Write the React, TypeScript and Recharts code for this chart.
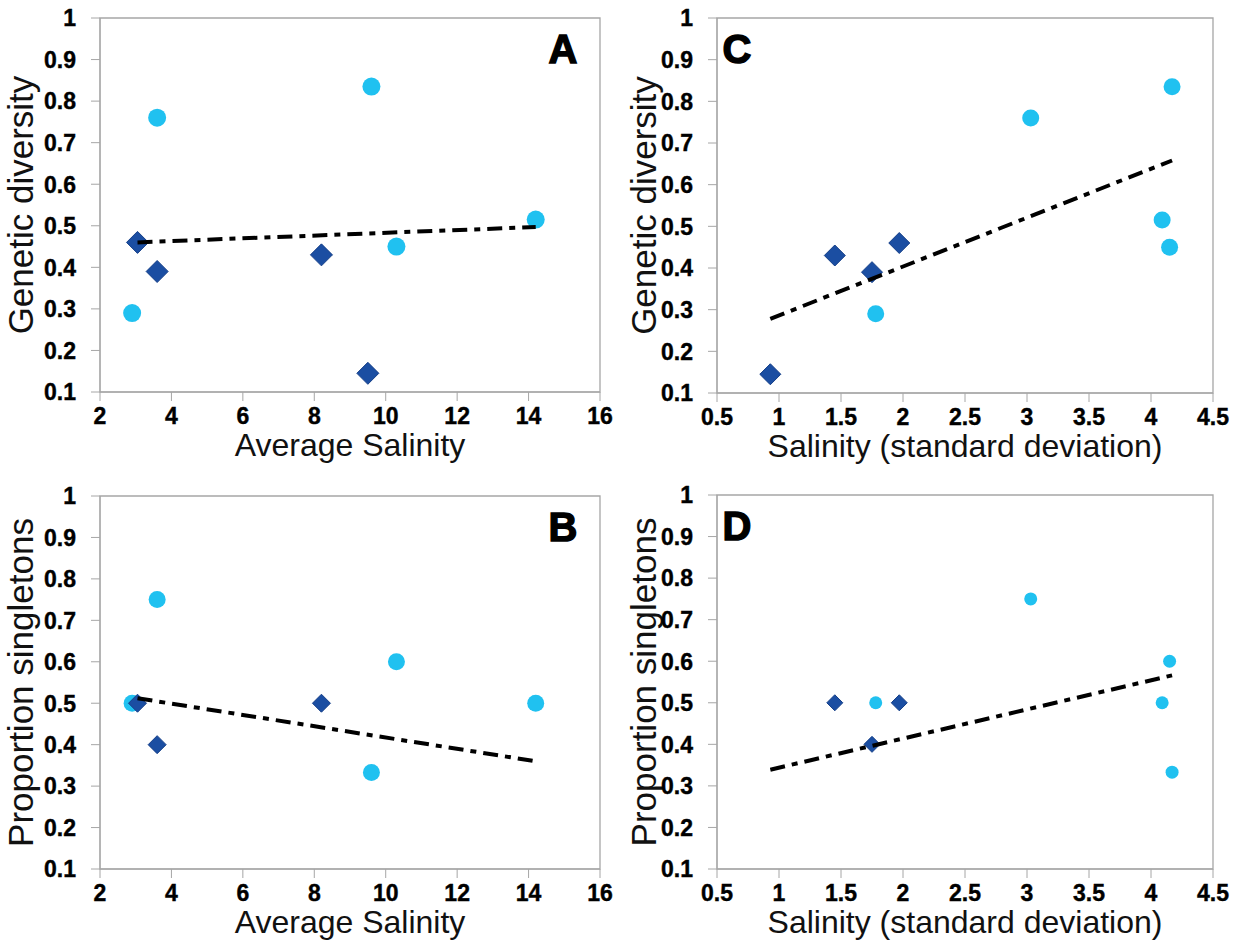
import { ScatterChart, Scatter, XAxis, YAxis, ReferenceArea } from "recharts";

// Populations drawn as light-blue circles (same order in every array)
const circleAvgSalinity = [2.9, 3.6, 9.6, 10.3, 14.2];
const circleSdSalinity = [1.78, 3.03, 4.17, 4.15, 4.09];
const circleDiversity = [0.29, 0.76, 0.835, 0.45, 0.515];
const circleSingletons = [0.5, 0.75, 0.333, 0.6, 0.5];

// Populations drawn as dark-blue diamonds (last one has no singleton value)
const diamondAvgSalinity = [3.05, 3.6, 8.2, 9.5];
const diamondSdSalinity = [1.97, 1.75, 1.45, 0.93];
const diamondDiversity = [0.46, 0.39, 0.43, 0.145];
const diamondSingletons: (number | null)[] = [0.5, 0.4, 0.5, null];

// Regression line end points
const trendAvgX = [3.05, 14.2];
const trendSdX = [0.93, 4.17];
const trendDiversityAvg = [0.46, 0.497];
const trendSingletonsAvg = [0.512, 0.36];
const trendDiversitySd = [0.278, 0.658];
const trendSingletonsSd = [0.339, 0.566];

// Tick labels
const avgTicks = [2, 4, 6, 8, 10, 12, 14, 16];
const sdTicks = [0.5, 1, 1.5, 2, 2.5, 3, 3.5, 4, 4.5];
const propTicks = [0.1, 0.2, 0.3, 0.4, 0.5, 0.6, 0.7, 0.8, 0.9, 1];

const FONT = '"Liberation Sans", Arial, Helvetica, sans-serif';
const GREY = "#a6a6a6";
const CYAN = "#20c1f0";
const NAVY = "#1b4ea2";

type Pt = { x: number; y: number };

const zip = (xs: number[], ys: (number | null)[]): Pt[] =>
  xs.flatMap((x, i) => (ys[i] == null ? [] : [{ x, y: ys[i] as number }]));

const circleShape = (r: number) => (p: any) =>
  <circle cx={p.cx} cy={p.cy} r={r} fill={CYAN} />;

const diamondShape = (h: number) => (p: any) =>
  (
    <polygon
      points={`${p.cx},${p.cy - h} ${p.cx + h},${p.cy} ${p.cx},${p.cy + h} ${p.cx - h},${p.cy}`}
      fill={NAVY}
      stroke="#153f88"
      strokeWidth={1}
    />
  );

const noShape = () => <g />;

// bold tick numbers, drawn by hand so size and spacing stay fixed
const tickText = {
  fontFamily: FONT,
  fontSize: 23,
  fontWeight: 700,
  fill: "#000",
  stroke: "#000",
  strokeWidth: 0.4,
};

const XTick = (p: any) => (
  <text x={p.x} y={p.y} dy="0.71em" textAnchor="middle" {...tickText}>
    {p.payload.value}
  </text>
);

const YTick = (p: any) => (
  <text x={p.x - 7} y={p.y} dy="0.36em" textAnchor="end" {...tickText}>
    {p.payload.value}
  </text>
);

type PanelProps = {
  left: number;
  top: number;
  margin: { top: number; right: number; bottom: number; left: number };
  xTicks: number[];
  xTitle: string;
  yTitle: string;
  yTitleX: number;
  letter: string;
  letterDx: number; // from plot left (positive) or plot right (negative)
  circles: Pt[];
  diamonds: Pt[];
  trend: Pt[];
  dotR: number;
  diamondH: number;
};

function Panel(props: PanelProps) {
  const { xTicks, margin } = props;
  const x0 = xTicks[0];
  const x1 = xTicks[xTicks.length - 1];

  return (
    <div style={{ position: "absolute", left: props.left, top: props.top }}>
      <ScatterChart width={621} height={474} margin={margin}>
        <XAxis
          type="number"
          dataKey="x"
          domain={[x0, x1]}
          ticks={xTicks}
          interval={0}
          allowDataOverflow
          height={60}
          tickSize={9}
          tickMargin={7}
          stroke={GREY}
          tick={XTick}
          label={{
            content: ({ viewBox }: any) => (
              <text
                x={viewBox.x + viewBox.width / 2}
                y={viewBox.y + 64}
                textAnchor="middle"
                fontFamily={FONT}
                fontSize={32}
                fill="#111"
              >
                {props.xTitle}
              </text>
            ),
          }}
        />
        <YAxis
          type="number"
          dataKey="y"
          domain={[0.1, 1]}
          ticks={propTicks}
          interval={0}
          allowDataOverflow
          width={60}
          tickSize={9}
          tickMargin={8}
          stroke={GREY}
          tick={YTick}
          label={{
            content: ({ viewBox }: any) => {
              const cy = viewBox.y + viewBox.height / 2;
              return (
                <text
                  x={props.yTitleX}
                  y={cy}
                  transform={`rotate(-90, ${props.yTitleX}, ${cy})`}
                  textAnchor="middle"
                  fontFamily={FONT}
                  fontSize={35}
                  fill="#111"
                >
                  {props.yTitle}
                </text>
              );
            },
          }}
        />
        {/* frame around the plot area, carrying the panel letter */}
        <ReferenceArea
          x1={x0}
          x2={x1}
          y1={0.1}
          y2={1}
          fill="none"
          stroke={GREY}
          strokeWidth={1.3}
          label={{
            content: ({ viewBox }: any) => {
              const lx =
                props.letterDx >= 0
                  ? viewBox.x + props.letterDx
                  : viewBox.x + viewBox.width + props.letterDx;
              return (
                <text
                  x={lx}
                  y={viewBox.y + 45}
                  textAnchor="middle"
                  fontFamily={FONT}
                  fontSize={40}
                  fontWeight={700}
                  fill="#000"
                  stroke="#000"
                  strokeWidth={1.4}
                >
                  {props.letter}
                </text>
              );
            },
          }}
        />
        <Scatter data={props.circles} shape={circleShape(props.dotR)} isAnimationActive={false} />
        <Scatter data={props.diamonds} shape={diamondShape(props.diamondH)} isAnimationActive={false} />
        <Scatter
          data={props.trend}
          shape={noShape}
          line={{ stroke: "#000", strokeWidth: 4, strokeDasharray: "15 7 6 7" }}
          lineType="joint"
          isAnimationActive={false}
        />
      </ScatterChart>
    </div>
  );
}

export default function App() {
  return (
    <div
      style={{
        position: "absolute",
        left: 0,
        top: 0,
        width: 1242,
        height: 948,
        background: "#fff",
        overflow: "hidden",
      }}
    >
      <Panel
        left={0}
        top={0}
        margin={{ top: 18, right: 21, bottom: 22, left: 40 }}
        xTicks={avgTicks}
        xTitle="Average Salinity"
        yTitle="Genetic diversity"
        yTitleX={33}
        letter="A"
        letterDx={-37}
        circles={zip(circleAvgSalinity, circleDiversity)}
        diamonds={zip(diamondAvgSalinity, diamondDiversity)}
        trend={zip(trendAvgX, trendDiversityAvg)}
        dotR={9}
        diamondH={11}
      />
      <Panel
        left={621}
        top={0}
        margin={{ top: 18, right: 29, bottom: 21, left: 36 }}
        xTicks={sdTicks}
        xTitle="Salinity (standard deviation)"
        yTitle="Genetic diversity"
        yTitleX={35}
        letter="C"
        letterDx={20}
        circles={zip(circleSdSalinity, circleDiversity)}
        diamonds={zip(diamondSdSalinity, diamondDiversity)}
        trend={zip(trendSdX, trendDiversitySd)}
        dotR={8.5}
        diamondH={10.5}
      />
      <Panel
        left={0}
        top={474}
        margin={{ top: 22, right: 21, bottom: 19, left: 40 }}
        xTicks={avgTicks}
        xTitle="Average Salinity"
        yTitle="Proportion singletons"
        yTitleX={33}
        letter="B"
        letterDx={-37}
        circles={zip(circleAvgSalinity, circleSingletons)}
        diamonds={zip(diamondAvgSalinity, diamondSingletons)}
        trend={zip(trendAvgX, trendSingletonsAvg)}
        dotR={8.5}
        diamondH={9}
      />
      <Panel
        left={621}
        top={474}
        margin={{ top: 21, right: 29, bottom: 19, left: 36 }}
        xTicks={sdTicks}
        xTitle="Salinity (standard deviation)"
        yTitle="Proportion singletons"
        yTitleX={35}
        letter="D"
        letterDx={20}
        circles={zip(circleSdSalinity, circleSingletons)}
        diamonds={zip(diamondSdSalinity, diamondSingletons)}
        trend={zip(trendSdX, trendSingletonsSd)}
        dotR={6.5}
        diamondH={8}
      />
    </div>
  );
}
